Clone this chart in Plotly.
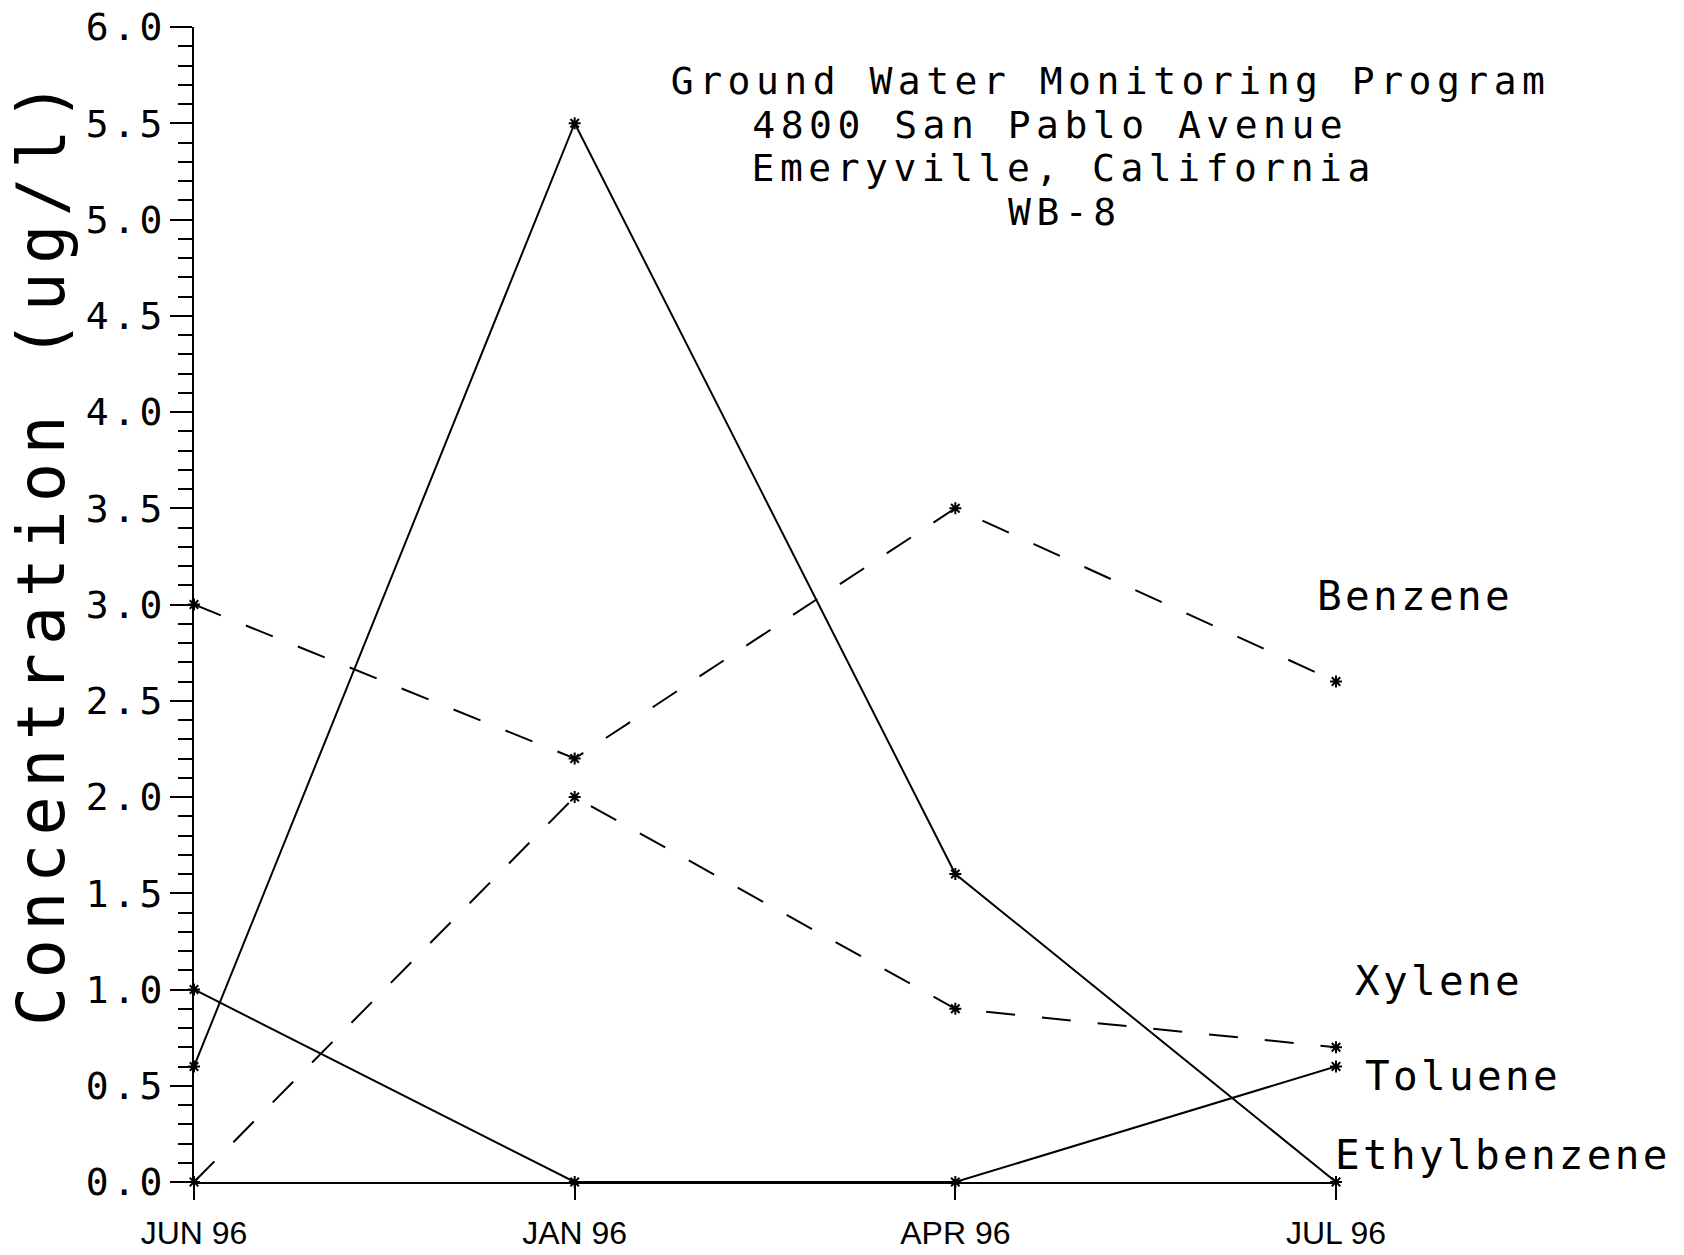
import plotly.graph_objects as go

# Sampling dates and measured concentrations (ug/l) at well WB-8
months = ["JUN 96", "JAN 96", "APR 96", "JUL 96"]
benzene = [3.0, 2.2, 3.5, 2.6]
toluene = [1.0, 0.0, 0.0, 0.6]
ethylbenzene = [0.6, 5.5, 1.6, 0.0]
xylene = [0.0, 2.0, 0.9, 0.7]

title_lines = [
    "Ground Water Monitoring Program",
    "4800 San Pablo Avenue",
    "Emeryville, California",
    "WB-8",
]
y_title = "Concentration (ug/l)"

W, H = 1684, 1255
L, R, T, B = 194, 348, 27, 73
PW, PH = W - L - R, H - T - B

MONO = "DejaVu Sans Mono"


def px_x(x):
    return (x - L) / PW


def px_y(y):
    return (H - B - y) / PH


fig = go.Figure()

series = [
    ("Benzene", benzene, "29px,27px"),
    ("Toluene", toluene, "solid"),
    ("Ethylbenzene", ethylbenzene, "solid"),
    ("Xylene", xylene, "29px,27px"),
]
for name, vals, dash in series:
    fig.add_trace(go.Scatter(
        x=months, y=vals, name=name, mode="lines+markers",
        line=dict(color="black", width=2, dash=dash),
        marker=dict(symbol="asterisk-open", size=10,
                    line=dict(color="black", width=2)),
        cliponaxis=False, showlegend=False,
    ))

annotations = []
# Stacked header, one annotation per line
title_pos = [(1110, 81), (1050, 125), (1063, 168), (1065, 212)]
for text, (cx, cy) in zip(title_lines, title_pos):
    annotations.append(dict(
        text=text, xref="paper", yref="paper", x=px_x(cx), y=px_y(cy),
        xanchor="center", yanchor="middle", showarrow=False,
        font=dict(family=MONO, size=38, color="black"),
    ))

# Series names beside the last sample
label_pos = {
    "Benzene": (1315, 596),
    "Xylene": (1353, 981),
    "Toluene": (1363, 1076),
    "Ethylbenzene": (1333, 1155),
}
for name, (lx, ly) in label_pos.items():
    annotations.append(dict(
        text=name, xref="paper", yref="paper", x=px_x(lx), y=px_y(ly),
        xanchor="left", yanchor="middle", align="left", showarrow=False,
        font=dict(family=MONO, size=41, color="black"),
    ))

# Rotated y-axis title
annotations.append(dict(
    text=y_title, xref="paper", yref="paper", x=px_x(41), y=px_y(550),
    xanchor="center", yanchor="middle", textangle=-90, showarrow=False,
    font=dict(family=MONO, size=65, color="black"),
))

fig.update_layout(
    width=W, height=H,
    margin=dict(l=L, r=R, t=T, b=B, pad=0, autoexpand=False),
    paper_bgcolor="white", plot_bgcolor="white",
    annotations=annotations,
    xaxis=dict(
        type="category", range=[0, 3], showgrid=False, zeroline=False,
        automargin=False,
        showline=True, linecolor="black", linewidth=2,
        ticks="outside", ticklen=16, tickwidth=2, tickcolor="black",
        tickfont=dict(family="Liberation Sans", size=32, color="black"),
        ticklabelstandoff=6,
    ),
    yaxis=dict(
        range=[0, 6], tick0=0, dtick=0.5, tickformat=".1f",
        showgrid=False, zeroline=False, automargin=False,
        showline=True, linecolor="black", linewidth=2,
        ticks="outside", ticklen=22, tickwidth=2, tickcolor="black",
        tickfont=dict(family=MONO, size=38, color="black"),
        ticklabelstandoff=-4,
        minor=dict(dtick=0.1, tick0=0, ticks="outside", ticklen=14,
                   tickwidth=2, tickcolor="black", showgrid=False),
    ),
)

# Widen the character spacing of the mono text to a plotter-style pitch
spacing_js = """
var gd = document.getElementById('{plot_id}');
var sp = {'38px': '5.5px', '41px': '3.3px', '65px': '8.5px'};
gd.querySelectorAll('text.annotation-text').forEach(function(t) {
  var s = sp[t.style.fontSize];
  if (s) { t.style.letterSpacing = s; }
});
gd.querySelectorAll('.ytick text').forEach(function(t) {
  t.style.letterSpacing = '4px';
});
"""

fig.write_html("out.html", post_script=spacing_js)
